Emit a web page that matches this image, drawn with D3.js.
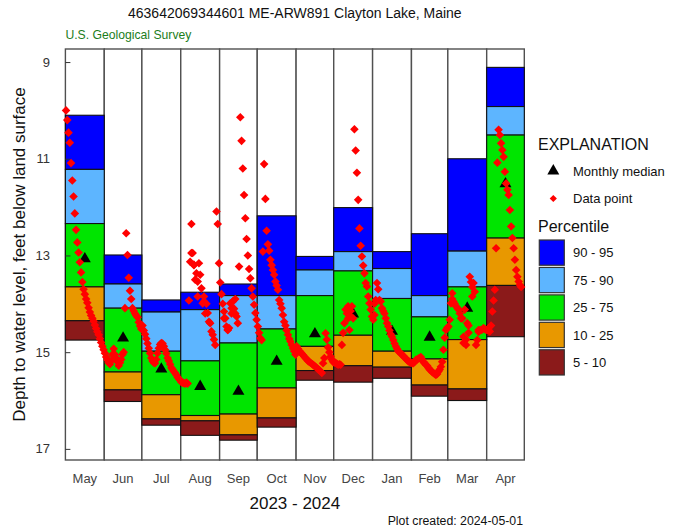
<!DOCTYPE html>
<html><head><meta charset="utf-8">
<script src="https://cdn.jsdelivr.net/npm/d3@7"></script>
<style>body{margin:0;background:#fff}svg{display:block;font-family:Arial,"Liberation Sans",sans-serif}</style>
</head><body><svg id="c" width="676" height="531"></svg>
<script>
// ---------- data ----------
const months = ["May","Jun","Jul","Aug","Sep","Oct","Nov","Dec","Jan","Feb","Mar","Apr"];
const monthStarts = ["2023-05-01","2023-06-01","2023-07-01","2023-08-01","2023-09-01","2023-10-01","2023-11-01","2023-12-01","2024-01-01","2024-02-01","2024-03-01","2024-04-01","2024-05-01"];
const p95 = [10.10,12.99,13.92,13.76,13.59,12.18,13.02,12.01,12.92,12.55,11.00,9.11];
const p90 = [11.22,13.59,14.17,14.12,13.83,13.83,13.30,12.92,13.27,13.83,12.91,9.92];
const p75 = [12.34,14.09,14.98,15.18,14.81,14.52,13.83,13.32,13.89,14.27,13.65,10.51];
const p25 = [13.65,15.41,15.88,16.31,16.28,15.74,14.88,14.65,14.98,15.14,14.74,12.64];
const p10 = [14.35,15.78,16.38,16.42,16.71,16.36,15.38,15.28,15.31,15.68,15.76,13.62];
const p05 = [14.75,16.02,16.51,16.72,16.82,16.55,15.58,15.62,15.54,15.91,16.00,14.68];
const medians = [13.07,14.71,15.35,15.71,15.81,15.19,14.62,14.21,14.57,14.69,14.09,11.52];

// daily depth readings, one per day starting on the 1st of each month
const may23 = [10.00,10.20,10.46,10.67,11.09,11.45,11.78,12.13,12.47,12.73,12.94,13.14,13.35,13.55,13.70,13.80,13.90,13.98,14.08,14.17,14.24,14.30,14.36,14.44,14.51,14.58,14.64,14.72,14.80,14.88,14.95];
const jun23 = [15.02,15.10,15.16,15.22,15.25,15.18,15.05,14.93,15.05,15.12,15.20,15.28,15.22,15.15,15.05,15.00,14.09,12.54,12.99,13.46,13.73,13.90,14.09,14.15,14.20,14.24,14.28,14.38,14.46,14.52];
const jul23 = [14.45,14.55,14.63,14.72,14.82,14.92,15.02,15.12,15.18,15.22,15.23,15.15,15.02,14.92,14.84,14.81,14.82,14.88,14.95,15.03,15.12,15.18,15.25,15.32,15.36,15.40,15.43,15.47,15.52,15.55,15.58];
const aug23 = [15.62,15.63,15.64,15.65,15.63,15.65,13.93,13.13,12.35,12.95,13.20,13.50,13.37,13.85,13.16,13.40,13.68,13.99,13.95,14.20,14.00,14.19,14.37,14.40,14.57,14.64,14.74,14.85,12.09,12.35,13.16];
const sep23 = [13.56,13.80,14.00,14.16,14.30,14.47,14.54,14.50,13.99,14.09,13.95,14.10,14.20,14.26,14.40,13.23,10.14,10.63,11.20,11.75,12.23,12.66,13.00,13.28,13.47,13.68,13.85,14.02,14.19,14.33];
const oct23 = [14.47,14.60,14.71,14.75,12.92,11.11,11.83,12.49,12.77,12.90,13.09,13.20,13.30,13.40,13.54,13.62,13.71,13.92,14.00,14.09,14.23,14.37,14.45,14.55,14.64,14.72,14.78,14.85,14.92,14.98,15.05];
const nov23 = [14.88,14.93,14.97,15.00,15.03,15.06,15.09,15.12,15.15,15.18,15.20,15.22,15.24,15.26,15.28,15.30,15.33,15.35,15.37,15.40,15.43,15.23,15.12,14.61,14.74,14.90,15.00,15.09,15.15,15.20];
const dec23 = [15.22,15.22,15.24,15.26,15.25,15.26,14.85,14.60,14.40,14.12,14.20,14.05,14.54,14.26,14.05,14.30,10.39,10.83,11.29,11.85,12.44,12.80,13.02,13.21,13.37,13.57,13.64,13.85,13.99,14.12,14.26];
const jan24 = [14.33,14.23,13.92,13.57,13.70,13.92,13.95,14.09,14.15,14.20,14.30,14.40,14.47,14.55,14.63,14.68,14.75,14.82,14.88,14.93,14.98,15.00,15.03,15.05,15.08,15.11,15.13,15.16,15.19,15.20,15.22];
const feb24 = [15.23,15.23,15.20,15.16,15.15,15.13,15.12,15.10,15.15,15.20,15.23,15.26,15.28,15.32,15.36,15.38,15.41,15.43,15.45,15.47,15.45,15.40,15.36,15.30,15.20,14.95,14.70,14.54,14.50];
const mar24 = [14.47,14.33,13.99,13.78,13.95,14.00,14.05,14.08,14.12,14.20,14.30,14.30,14.81,14.12,14.74,14.40,14.45,13.44,13.55,13.65,13.57,13.75,14.85,14.75,14.54,14.55,14.54,14.53,14.50,14.52,14.54];
const apr24 = [14.54,14.55,14.57,14.45,14.16,13.93,13.71,12.85,11.08,10.40,10.51,10.68,10.82,10.96,11.27,11.51,11.64,11.75,12.06,12.40,12.64,12.85,13.09,13.30,13.44,13.54,13.61,13.65];
const monthlyReadings = [may23,jun23,jul23,aug23,sep23,oct23,nov23,dec23,jan24,feb24,mar24,apr24];

// additional readings (scatter within noisy periods)
const extraDates = ["2023-08-09","2023-08-11","2023-08-14","2023-08-19","2023-09-04","2023-09-07","2023-09-10","2023-09-13","2023-12-12","2023-12-14","2024-01-02","2024-03-04","2024-03-13","2024-03-15","2024-03-17","2024-03-20","2024-03-25"];
const extraDepths = [12.95,13.19,13.54,13.85,14.30,14.54,14.20,13.90,14.30,14.15,14.00,13.90,14.68,14.85,14.60,13.85,14.58];

const yTicks = [9,11,13,15,17];
const legendLabels = ["90 - 95","75 - 90","25 - 75","10 - 25","5 - 10"];
const bandColors = ["#0000FF","#5DB5FF","#00E500","#E89800","#8B1A1A"];

// ---------- drawing ----------
const svg = d3.select("#c");
const parse = d3.utcParse("%Y-%m-%d");
const L = 65.4, R = 524.3, T = 49, B = 460;
const x = d3.scaleUtc().domain([parse(monthStarts[0]), parse(monthStarts[12])]).range([L, R]);
const y = d3.scaleLinear().domain([8.73, 17.23]).range([T, B]);

const monthsData = months.map((m, i) => ({
  m, i, x0: x(parse(monthStarts[i])), x1: x(parse(monthStarts[i + 1])),
  bands: [[p95[i], p90[i]], [p90[i], p75[i]], [p75[i], p25[i]], [p25[i], p10[i]], [p10[i], p05[i]]],
  median: medians[i]
}));

// month columns
svg.append("g").selectAll("rect").data(monthsData).join("rect")
  .attr("x", d => d.x0).attr("width", d => d.x1 - d.x0)
  .attr("y", T).attr("height", B - T)
  .attr("fill", "#fff").attr("stroke", "#505050").attr("stroke-width", 1.4);

// percentile bands
const gb = svg.append("g");
monthsData.forEach(d => {
  gb.selectAll(null).data(d.bands).join("rect")
    .attr("x", d.x0).attr("width", d.x1 - d.x0)
    .attr("y", b => y(b[0])).attr("height", b => y(b[1]) - y(b[0]))
    .attr("fill", (b, k) => bandColors[k])
    .attr("stroke", "#111").attr("stroke-width", 1.1);
});

// y axis (ticks inward)
const yAxis = d3.axisRight(y).tickValues(yTicks).tickSize(5).tickFormat("");
svg.append("g").attr("transform", `translate(${L},0)`).call(yAxis)
  .call(g => g.select(".domain").remove())
  .call(g => g.selectAll("line").attr("stroke", "#333"));
svg.append("g").selectAll("text").data(yTicks).join("text")
  .attr("x", 50).attr("y", d => y(d) + 4.5).attr("text-anchor", "end")
  .attr("font-size", 13).attr("fill", "#333").text(d => d);

// month labels
svg.append("g").selectAll("text").data(monthsData).join("text")
  .attr("x", d => (d.x0 + d.x1) / 2).attr("y", 483).attr("text-anchor", "middle")
  .attr("font-size", 13).attr("fill", "#444").text(d => d.m);

// medians
const tri = d3.symbol().type(d3.symbolTriangle).size(62);
svg.append("g").selectAll("path").data(monthsData).join("path")
  .attr("d", tri).attr("fill", "#000")
  .attr("transform", d => `translate(${(d.x0 + d.x1) / 2},${y(d.median)})`);

// data points
const points = [];
monthlyReadings.forEach((arr, i) => {
  const start = parse(monthStarts[i]);
  arr.forEach((v, k) => points.push({ t: d3.utcHour.offset(d3.utcDay.offset(start, k), 12), v }));
});
extraDates.forEach((s, k) => points.push({ t: d3.utcHour.offset(parse(s), 12), v: extraDepths[k] }));
const dia = r => `M0,${-r}L${r},0L0,${r}L${-r},0Z`;
svg.append("g").selectAll("path").data(points).join("path")
  .attr("d", dia(4.3)).attr("fill", "#FF0000")
  .attr("transform", d => `translate(${x(d.t)},${y(d.v)})`);

// titles
svg.append("text").attr("x", (L + R) / 2).attr("y", 17.5).attr("text-anchor", "middle")
  .attr("font-size", 14).attr("fill", "#111").text("463642069344601 ME-ARW891 Clayton Lake, Maine");
svg.append("text").attr("x", L).attr("y", 39).attr("font-size", 12.2).attr("fill", "#1b7d1b")
  .text("U.S. Geological Survey");
svg.append("text").attr("x", (L + R) / 2).attr("y", 509).attr("text-anchor", "middle")
  .attr("font-size", 17).attr("fill", "#111").text("2023 - 2024");
svg.append("text").attr("x", 523).attr("y", 525).attr("text-anchor", "end")
  .attr("font-size", 12.3).attr("fill", "#111").text("Plot created: 2024-05-01");
svg.append("text").attr("transform", `translate(25,${(T + B) / 2}) rotate(-90)`)
  .attr("text-anchor", "middle").attr("font-size", 17).attr("fill", "#111")
  .text("Depth to water level, feet below land surface");

// legend
const lg = svg.append("g");
lg.append("text").attr("x", 538).attr("y", 150).attr("font-size", 16).attr("fill", "#111").text("EXPLANATION");
lg.append("path").attr("d", d3.symbol().type(d3.symbolTriangle).size(62)).attr("transform", "translate(553.3,171)").attr("fill", "#000");
lg.append("text").attr("x", 573).attr("y", 176).attr("font-size", 13).attr("fill", "#111").text("Monthly median");
lg.append("path").attr("d", dia(3.6)).attr("transform", "translate(553.3,198.5)").attr("fill", "#FF0000");
lg.append("text").attr("x", 573).attr("y", 203).attr("font-size", 13).attr("fill", "#111").text("Data point");
lg.append("text").attr("x", 538).attr("y", 232).attr("font-size", 16).attr("fill", "#111").text("Percentile");
const ly = d3.scaleBand().domain(legendLabels).range([240, 375]).paddingInner(0.08);
lg.selectAll("rect").data(legendLabels).join("rect")
  .attr("x", 539.3).attr("y", d => ly(d)).attr("width", 25).attr("height", ly.bandwidth())
  .attr("fill", (d, k) => bandColors[k]).attr("stroke", "#333").attr("stroke-width", 1.2);
lg.selectAll("text.l").data(legendLabels).join("text").attr("class", "l")
  .attr("x", 573).attr("y", d => ly(d) + ly.bandwidth() / 2 + 4.6)
  .attr("font-size", 13).attr("fill", "#111").text(d => d);
</script></body></html>
